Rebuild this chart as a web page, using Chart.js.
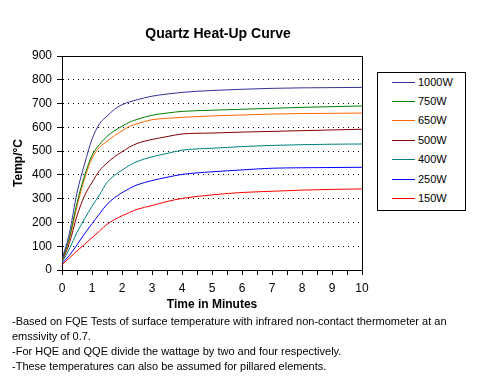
<!DOCTYPE html>
<html>
<head>
<meta charset="utf-8">
<script src="https://cdn.jsdelivr.net/npm/chart.js@4.4.1/dist/chart.umd.min.js"></script>
<style>
  html, body { margin:0; padding:0; background:#fff; overflow:hidden; }
  #wrap { position:relative; width:485px; height:382px; font-family: Arial, "Liberation Sans", sans-serif; color:#000; }
  #c { position:absolute; left:0; top:0; }
  #title { position:absolute; left:118px; width:200px; top:24px; text-align:center; font-weight:bold; font-size:14px; line-height:18px; white-space:nowrap; }
  #legend { position:absolute; left:377px; top:72px; width:89px; height:139px; box-sizing:border-box; border:1px solid #000; background:#fff; }
  .li { position:absolute; left:0; height:14px; font-size:11px; line-height:14px; white-space:nowrap; }
  .li .sw { position:absolute; display:block; left:14px; top:7px; width:23px; height:0; border-top-width:1px; border-top-style:solid; }
  .li .tx { position:absolute; left:40px; top:0; }
  #notes { position:absolute; left:12px; top:314px; font-size:11px; line-height:15px; white-space:nowrap; }
</style>
</head>
<body>
<div id="wrap">
  <canvas id="c" width="485" height="382"></canvas>
  <div id="title">Quartz Heat-Up Curve</div>
  <div id="legend"></div>
  <div id="notes">
    <div>-Based on FQE Tests of surface temperature with infrared non-contact thermometer at an</div>
    <div>emssivity of 0.7.</div>
    <div>-For HQE and QQE divide the wattage by two and four respectively.</div>
    <div>-These temperatures can also be assumed for pillared elements.</div>
  </div>
</div>
<script>
// ---- data ----
const times   = [0, 0.25, 0.5, 0.75, 1, 1.25, 1.5, 1.75, 2, 2.25, 2.5, 3, 3.5, 4, 5, 6, 7, 8, 9, 10];
const w1000   = [45, 157, 325, 445, 550, 615, 647, 676, 695, 707, 716, 731, 740, 747, 755, 760, 764, 766, 767, 768];
const w750    = [40, 138, 283, 396, 482, 528, 562, 586, 604, 622, 633, 651, 660, 667, 672, 676, 680, 684, 687, 690];
const w650    = [38, 130, 268, 383, 470, 516, 541, 565, 585, 604, 615, 632, 638, 642, 648, 652, 656, 658, 659, 660];
const w500    = [35, 115, 228, 312, 368, 418, 450, 476, 497, 517, 532, 549, 561, 572, 576, 580, 583, 586, 589, 592];
const w400    = [32, 90, 158, 215, 268, 316, 368, 398, 420, 440, 456, 476, 490, 504, 512, 519, 524, 527, 529, 530];
const w250    = [28, 62, 106, 152, 195, 236, 276, 304, 325, 343, 358, 376, 390, 402, 413, 421, 428, 430, 431, 432];
const w150    = [22, 51, 80, 108, 136, 164, 192, 212, 228, 242, 255, 271, 288, 301, 316, 326, 331, 336, 339, 341];
const seriesNames  = ['1000W', '750W', '650W', '500W', '400W', '250W', '150W'];
const seriesValues = [w1000, w750, w650, w500, w400, w250, w150];
const seriesColors = ['#333399', '#008000', '#FF6600', '#800000', '#008080', '#0000FF', '#FF0000'];
const yTickStep = 100, yMin = 0, yMax = 900;
const xMin = 0, xMax = 10, xTickStep = 0.5;

const datasets = seriesNames.map((name, i) => ({
  label: name,
  data: times.map((t, j) => ({ x: t, y: seriesValues[i][j] })),
  borderColor: seriesColors[i],
  backgroundColor: seriesColors[i],
  borderWidth: 1,
  pointRadius: 0,
  fill: false,
  cubicInterpolationMode: 'monotone'
}));

const frame = {
  id: 'frame',
  afterDraw(chart) {
    const { ctx, chartArea: a } = chart;
    ctx.save();
    ctx.strokeStyle = '#000';
    ctx.lineWidth = 1;
    ctx.setLineDash([]);
    ctx.beginPath();
    ctx.moveTo(a.left, Math.round(a.top) + 0.5);
    ctx.lineTo(Math.round(a.right) + 1, Math.round(a.top) + 0.5);
    ctx.moveTo(Math.round(a.right) + 0.5, a.top);
    ctx.lineTo(Math.round(a.right) + 0.5, Math.round(a.bottom) + 1);
    ctx.stroke();
    ctx.restore();
  }
};

Chart.defaults.font.family = 'Arial, "Liberation Sans", sans-serif';
Chart.defaults.color = '#000';

const chart = new Chart(document.getElementById('c'), {
  type: 'line',
  data: { datasets },
  options: {
    responsive: false,
    animation: false,
    devicePixelRatio: 1,
    layout: { padding: { left: 0, top: 56, right: 123, bottom: 70 } },
    plugins: { legend: { display: false }, tooltip: { enabled: false }, title: { display: false } },
    scales: {
      x: {
        type: 'linear', min: xMin, max: xMax,
        ticks: { stepSize: xTickStep, autoSkip: false, maxRotation: 0, padding: 6,
                 font: { size: 12 }, color: '#000',
                 callback: v => Number.isInteger(v) ? String(v) : '' },
        grid: { drawOnChartArea: false, drawTicks: true, tickLength: 5, tickColor: '#000', tickWidth: 1 },
        border: { display: true, color: '#000', width: 1 },
        title: { display: true, text: 'Time in Minutes', color: '#000',
                 font: { size: 12, weight: 'bold' }, padding: { top: 0, bottom: 0 } },
        afterFit: s => { s.height = 42; }
      },
      y: {
        type: 'linear', min: yMin, max: yMax,
        ticks: { stepSize: yTickStep, padding: 5, font: { size: 12 }, color: '#000' },
        grid: { color: '#000', lineWidth: 1, drawTicks: true, tickLength: 5, tickColor: '#000', tickWidth: 1, tickBorderDash: [] },
        border: { display: true, color: '#000', width: 1, dash: [1, 4] },
        title: { display: true, text: 'Temp/°C', color: '#000',
                 font: { size: 12, weight: 'bold' }, padding: { top: 11, bottom: 0 } },
        afterFit: s => { s.width = 62; }
      }
    }
  },
  plugins: [frame]
});

// legend built from the chart's datasets
const leg = document.getElementById('legend');
const rowTops = [2, 21, 40, 60, 79, 99, 118];
chart.data.datasets.forEach((ds, i) => {
  const row = document.createElement('div');
  row.className = 'li';
  row.style.top = rowTops[i] + 'px';
  const sw = document.createElement('span');
  sw.className = 'sw';
  sw.style.borderTopColor = ds.borderColor;
  const tx = document.createElement('span');
  tx.className = 'tx';
  tx.textContent = ds.label;
  row.appendChild(sw);
  row.appendChild(tx);
  leg.appendChild(row);
});
</script>
</body>
</html>
